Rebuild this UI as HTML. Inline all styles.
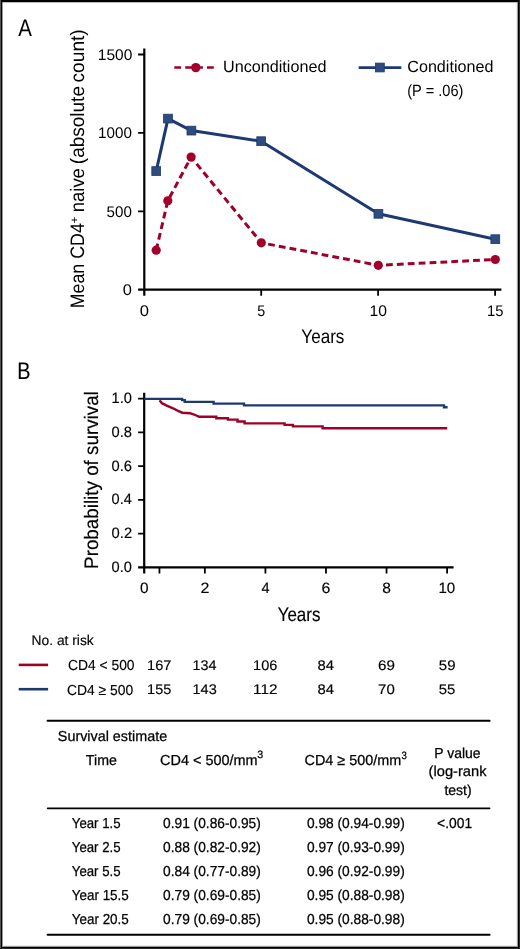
<!DOCTYPE html>
<html><head><meta charset="utf-8"><style>
html,body{margin:0;padding:0;background:#fff;}
svg{display:block;will-change:transform;}
text{font-family:"Liberation Sans",sans-serif;fill:#000;text-rendering:geometricPrecision;}
.b1{stroke:#000;stroke-width:0.15px;}
.b2{stroke:#000;stroke-width:0.25px;}
</style></head><body>
<svg width="520" height="949" viewBox="0 0 520 949">
<rect width="520" height="949" fill="#fff"/>
<g shape-rendering="crispEdges"><rect x="0" y="0" width="520" height="949" fill="#000"/><rect x="0" y="0" width="1" height="949" fill="#555"/><rect x="519" y="0" width="1" height="949" fill="#2a2a2a"/><rect x="0" y="948" width="520" height="1" fill="#2a2a2a"/><rect x="2" y="2" width="516" height="945" fill="#999"/><rect x="3" y="2" width="514" height="944" fill="#bbb"/><rect x="3" y="3" width="514" height="943" fill="#eee"/><rect x="3" y="3" width="513" height="942" fill="#fff"/></g>
<path d="M144.3 48.4V295.8M138.1 289.6H501.4" stroke="#000" stroke-width="2.2" fill="none"/>
<path d="M138.1 54.5H144.3 M138.1 132.9H144.3 M138.1 211.3H144.3 M261.2 289.6V295.8 M378.1 289.6V295.8 M495.1 289.6V295.8" stroke="#000" stroke-width="1.8" fill="none"/>
<polyline points="156.2,250.2 167.8,200.8 191.1,157.1 261.3,242.8 378.3,265.3 495.3,259.5" fill="none" stroke="#9f0027" stroke-width="3.0" stroke-dasharray="6.8 4.1"/>
<polyline points="156.2,171.1 168.0,118.6 191.4,130.6 261.2,141.2 378.4,213.8 495.3,239.2" fill="none" stroke="#1c3a71" stroke-width="3.0" stroke-linejoin="round"/>
<circle cx="156.2" cy="250.2" r="4.6" fill="#a3002b"/>
<circle cx="167.8" cy="200.8" r="4.6" fill="#a3002b"/>
<circle cx="191.1" cy="157.1" r="4.6" fill="#a3002b"/>
<circle cx="261.3" cy="242.8" r="4.6" fill="#a3002b"/>
<circle cx="378.3" cy="265.3" r="4.6" fill="#a3002b"/>
<circle cx="495.3" cy="259.5" r="4.6" fill="#a3002b"/>
<rect x="151.79999999999998" y="166.7" width="8.8" height="8.8" fill="#2e4c7e" stroke="#1c3a71" stroke-width="0.8"/>
<rect x="163.6" y="114.19999999999999" width="8.8" height="8.8" fill="#2e4c7e" stroke="#1c3a71" stroke-width="0.8"/>
<rect x="187.0" y="126.19999999999999" width="8.8" height="8.8" fill="#2e4c7e" stroke="#1c3a71" stroke-width="0.8"/>
<rect x="256.8" y="136.79999999999998" width="8.8" height="8.8" fill="#2e4c7e" stroke="#1c3a71" stroke-width="0.8"/>
<rect x="374.0" y="209.4" width="8.8" height="8.8" fill="#2e4c7e" stroke="#1c3a71" stroke-width="0.8"/>
<rect x="490.90000000000003" y="234.79999999999998" width="8.8" height="8.8" fill="#2e4c7e" stroke="#1c3a71" stroke-width="0.8"/>
<path d="M174.3 67.5H214.2" stroke="#9f0027" stroke-width="2.6" stroke-dasharray="6.8 4.1"/>
<circle cx="195.8" cy="67.6" r="4.7" fill="#a3002b"/>
<path d="M358.7 67.6H401.3" stroke="#1c3a71" stroke-width="2.6"/>
<rect x="375.5" y="63.1" width="8.8" height="8.8" fill="#2e4c7e" stroke="#1c3a71" stroke-width="0.8"/>
<path d="M144.2 392.8V573.5M138.1 567.3H453.6" stroke="#000" stroke-width="2.2" fill="none"/>
<path d="M138.1 398.70H144.2 M138.1 432.42H144.2 M138.1 466.14H144.2 M138.1 499.86H144.2 M138.1 533.58H144.2 M159.44 567.3V573.5 M204.86 567.3V573.5 M265.42 567.3V573.5 M325.98 567.3V573.5 M386.54 567.3V573.5 M447.10 567.3V573.5" stroke="#000" stroke-width="1.8" fill="none"/>
<polyline points="159.6,400.2 161.9,403.2 166.2,405.3 173.0,408.3 178.0,410.8 182.3,412.7 190.0,413.2 194.1,414.5 199.2,416.8 216.3,416.8 216.3,418.2 227.9,418.2 227.9,419.6 237.5,419.6 237.5,421.5 244.6,421.5 244.6,423.4 284.6,423.4 284.6,424.9 292.9,424.9 292.9,426.4 322.6,426.4 322.6,428.3 447.2,428.3" fill="none" stroke="#9f0027" stroke-width="2.4"/>
<polyline points="144.2,398.9 182.1,398.9 182.1,400.1 184.7,400.1 184.7,401.9 213.6,401.9 213.6,403.6 244.0,403.6 244.0,405.4 444.0,405.4 444.0,407.3 447.6,407.3" fill="none" stroke="#1c3a71" stroke-width="2.4"/>
<path d="M18.7 664.9H48.1" stroke="#9f0027" stroke-width="2.6"/>
<path d="M18.7 689.2H48.1" stroke="#1c3a71" stroke-width="2.6"/>
<path d="M47.6 720.8H489.6M47.6 934.8H489.6" stroke="#000" stroke-width="2.0" stroke-linecap="round"/>
<path d="M47.6 808.4H489.6" stroke="#000" stroke-width="1.6" stroke-linecap="round"/>
<text x="18.30" y="35.60" font-size="24" textLength="13.64" lengthAdjust="spacingAndGlyphs">A</text>
<text x="97.84" y="59.60" font-size="15.4" textLength="34.48" lengthAdjust="spacingAndGlyphs">1500</text>
<text x="98.06" y="138.10" font-size="15.4" textLength="33.84" lengthAdjust="spacingAndGlyphs">1000</text>
<text x="106.59" y="216.50" font-size="15.4" textLength="25.29" lengthAdjust="spacingAndGlyphs">500</text>
<text x="122.74" y="294.80" font-size="15.4" textLength="9.13" lengthAdjust="spacingAndGlyphs">0</text>
<text x="139.73" y="315.70" font-size="15.4" textLength="9.25" lengthAdjust="spacingAndGlyphs">0</text>
<text x="257.23" y="315.70" font-size="15.4" textLength="7.96" lengthAdjust="spacingAndGlyphs">5</text>
<text x="369.62" y="315.70" font-size="15.4" textLength="17.46" lengthAdjust="spacingAndGlyphs">10</text>
<text x="486.99" y="315.70" font-size="15.4" textLength="16.43" lengthAdjust="spacingAndGlyphs">15</text>
<text x="301.37" y="342.80" font-size="19.5" textLength="43.03" lengthAdjust="spacingAndGlyphs">Years</text>
<text transform="translate(84.00,306.90) rotate(-90)" x="-1.43" y="0" font-size="19.5" textLength="85.16" lengthAdjust="spacingAndGlyphs">Mean CD4</text>
<text transform="translate(84.00,211.00) rotate(-90)" x="-1.20" y="0" font-size="19.5" textLength="44.04" lengthAdjust="spacingAndGlyphs">naive</text>
<text transform="translate(84.00,163.00) rotate(-90)" x="-1.14" y="0" font-size="19.5" textLength="78.07" lengthAdjust="spacingAndGlyphs">(absolute</text>
<text transform="translate(84.00,81.60) rotate(-90)" x="-0.86" y="0" font-size="19.5" textLength="53.19" lengthAdjust="spacingAndGlyphs">count)</text>
<text transform="translate(77.50,222.90) rotate(-90)" x="-0.60" y="0" font-size="11" textLength="6.98" lengthAdjust="spacingAndGlyphs">+</text>
<text x="222.99" y="72.20" font-size="16.3" textLength="103.44" lengthAdjust="spacingAndGlyphs">Unconditioned</text>
<text x="407.29" y="72.20" font-size="16.3" textLength="86.09" lengthAdjust="spacingAndGlyphs">Conditioned</text>
<text x="407.22" y="96.20" font-size="16.3" textLength="56.22" lengthAdjust="spacingAndGlyphs">(P = .06)</text>
<text class="b1" x="17.31" y="379.00" font-size="24" textLength="13.22" lengthAdjust="spacingAndGlyphs">B</text>
<text class="b1" x="111.60" y="403.30" font-size="15" textLength="20.39" lengthAdjust="spacingAndGlyphs">1.0</text>
<text class="b1" x="111.61" y="437.02" font-size="15" textLength="20.45" lengthAdjust="spacingAndGlyphs">0.8</text>
<text class="b1" x="111.61" y="470.74" font-size="15" textLength="20.45" lengthAdjust="spacingAndGlyphs">0.6</text>
<text class="b1" x="111.62" y="504.46" font-size="15" textLength="20.22" lengthAdjust="spacingAndGlyphs">0.4</text>
<text class="b1" x="111.61" y="538.18" font-size="15" textLength="20.53" lengthAdjust="spacingAndGlyphs">0.2</text>
<text class="b1" x="111.61" y="571.90" font-size="15" textLength="20.37" lengthAdjust="spacingAndGlyphs">0.0</text>
<text class="b1" x="140.04" y="593.30" font-size="15" textLength="8.55" lengthAdjust="spacingAndGlyphs">0</text>
<text class="b1" x="200.41" y="593.30" font-size="15" textLength="8.92" lengthAdjust="spacingAndGlyphs">2</text>
<text class="b1" x="261.41" y="593.30" font-size="15" textLength="8.12" lengthAdjust="spacingAndGlyphs">4</text>
<text class="b1" x="321.54" y="593.30" font-size="15" textLength="8.83" lengthAdjust="spacingAndGlyphs">6</text>
<text class="b1" x="382.19" y="593.30" font-size="15" textLength="8.64" lengthAdjust="spacingAndGlyphs">8</text>
<text class="b1" x="438.42" y="593.30" font-size="15" textLength="16.80" lengthAdjust="spacingAndGlyphs">10</text>
<text class="b1" x="277.68" y="620.60" font-size="19.5" textLength="42.73" lengthAdjust="spacingAndGlyphs">Years</text>
<text class="b1" transform="translate(97.90,567.40) rotate(-90)" x="-1.50" y="0" font-size="19.5" textLength="177.69" lengthAdjust="spacingAndGlyphs">Probability of survival</text>
<text class="b1" x="31.60" y="645.20" font-size="14" textLength="62.12" lengthAdjust="spacingAndGlyphs">No. at risk</text>
<text class="b1" x="68.01" y="669.70" font-size="14.5" textLength="66.53" lengthAdjust="spacingAndGlyphs">CD4 &lt; 500</text>
<text class="b1" x="67.01" y="694.60" font-size="14.5" textLength="66.23" lengthAdjust="spacingAndGlyphs">CD4 ≥ 500</text>
<text class="b1" x="147.10" y="669.60" font-size="14" textLength="24.30" lengthAdjust="spacingAndGlyphs">167</text>
<text class="b1" x="147.10" y="694.40" font-size="14" textLength="24.22" lengthAdjust="spacingAndGlyphs">155</text>
<text class="b1" x="192.53" y="669.60" font-size="14" textLength="23.99" lengthAdjust="spacingAndGlyphs">134</text>
<text class="b1" x="192.52" y="694.40" font-size="14" textLength="24.22" lengthAdjust="spacingAndGlyphs">143</text>
<text class="b1" x="253.08" y="669.60" font-size="14" textLength="24.22" lengthAdjust="spacingAndGlyphs">106</text>
<text class="b1" x="253.02" y="694.40" font-size="14" textLength="24.40" lengthAdjust="spacingAndGlyphs">112</text>
<text class="b1" x="317.61" y="669.60" font-size="14" textLength="16.47" lengthAdjust="spacingAndGlyphs">84</text>
<text class="b1" x="317.61" y="694.40" font-size="14" textLength="16.47" lengthAdjust="spacingAndGlyphs">84</text>
<text class="b1" x="378.08" y="669.60" font-size="14" textLength="16.88" lengthAdjust="spacingAndGlyphs">69</text>
<text class="b1" x="378.09" y="694.40" font-size="14" textLength="16.71" lengthAdjust="spacingAndGlyphs">70</text>
<text class="b1" x="438.80" y="669.60" font-size="14" textLength="16.71" lengthAdjust="spacingAndGlyphs">59</text>
<text class="b1" x="438.80" y="694.40" font-size="14" textLength="16.63" lengthAdjust="spacingAndGlyphs">55</text>
<text class="b2" x="57.85" y="740.70" font-size="14.5" textLength="109.27" lengthAdjust="spacingAndGlyphs">Survival estimate</text>
<text class="b2" x="85.85" y="764.60" font-size="14.5" textLength="30.99" lengthAdjust="spacingAndGlyphs">Time</text>
<text class="b2" x="160.08" y="764.50" font-size="14.5" textLength="97.50" lengthAdjust="spacingAndGlyphs">CD4 &lt; 500/mm</text>
<text class="b2" x="257.37" y="758.20" font-size="10.7" textLength="5.92" lengthAdjust="spacingAndGlyphs">3</text>
<text class="b2" x="304.58" y="764.50" font-size="14.5" textLength="96.69" lengthAdjust="spacingAndGlyphs">CD4 ≥ 500/mm</text>
<text class="b2" x="401.42" y="758.80" font-size="10.7" textLength="5.33" lengthAdjust="spacingAndGlyphs">3</text>
<text class="b2" x="434.28" y="757.70" font-size="14.5" textLength="46.31" lengthAdjust="spacingAndGlyphs">P value</text>
<text class="b2" x="428.62" y="776.20" font-size="14.5" textLength="57.89" lengthAdjust="spacingAndGlyphs">(log-rank</text>
<text class="b2" x="444.39" y="794.60" font-size="14.5" textLength="27.32" lengthAdjust="spacingAndGlyphs">test)</text>
<text class="b2" x="71.77" y="828.30" font-size="14.5" textLength="48.81" lengthAdjust="spacingAndGlyphs">Year 1.5</text>
<text class="b2" x="163.05" y="828.30" font-size="14.5" textLength="97.78" lengthAdjust="spacingAndGlyphs">0.91 (0.86-0.95)</text>
<text class="b2" x="306.95" y="828.30" font-size="14.5" textLength="97.78" lengthAdjust="spacingAndGlyphs">0.98 (0.94-0.99)</text>
<text class="b2" x="71.77" y="852.30" font-size="14.5" textLength="48.81" lengthAdjust="spacingAndGlyphs">Year 2.5</text>
<text class="b2" x="163.05" y="852.30" font-size="14.5" textLength="97.78" lengthAdjust="spacingAndGlyphs">0.88 (0.82-0.92)</text>
<text class="b2" x="306.95" y="852.30" font-size="14.5" textLength="97.78" lengthAdjust="spacingAndGlyphs">0.97 (0.93-0.99)</text>
<text class="b2" x="71.77" y="876.30" font-size="14.5" textLength="48.81" lengthAdjust="spacingAndGlyphs">Year 5.5</text>
<text class="b2" x="163.05" y="876.30" font-size="14.5" textLength="97.78" lengthAdjust="spacingAndGlyphs">0.84 (0.77-0.89)</text>
<text class="b2" x="306.95" y="876.30" font-size="14.5" textLength="97.78" lengthAdjust="spacingAndGlyphs">0.96 (0.92-0.99)</text>
<text class="b2" x="71.76" y="900.30" font-size="14.5" textLength="57.07" lengthAdjust="spacingAndGlyphs">Year 15.5</text>
<text class="b2" x="163.05" y="900.30" font-size="14.5" textLength="97.78" lengthAdjust="spacingAndGlyphs">0.79 (0.69-0.85)</text>
<text class="b2" x="306.95" y="900.30" font-size="14.5" textLength="97.78" lengthAdjust="spacingAndGlyphs">0.95 (0.88-0.98)</text>
<text class="b2" x="71.76" y="924.30" font-size="14.5" textLength="57.07" lengthAdjust="spacingAndGlyphs">Year 20.5</text>
<text class="b2" x="163.05" y="924.30" font-size="14.5" textLength="97.78" lengthAdjust="spacingAndGlyphs">0.79 (0.69-0.85)</text>
<text class="b2" x="306.95" y="924.30" font-size="14.5" textLength="97.78" lengthAdjust="spacingAndGlyphs">0.95 (0.88-0.98)</text>
<text class="b2" x="437.11" y="828.30" font-size="14.5" textLength="34.99" lengthAdjust="spacingAndGlyphs">&lt;.001</text>
</svg>
</body></html>
